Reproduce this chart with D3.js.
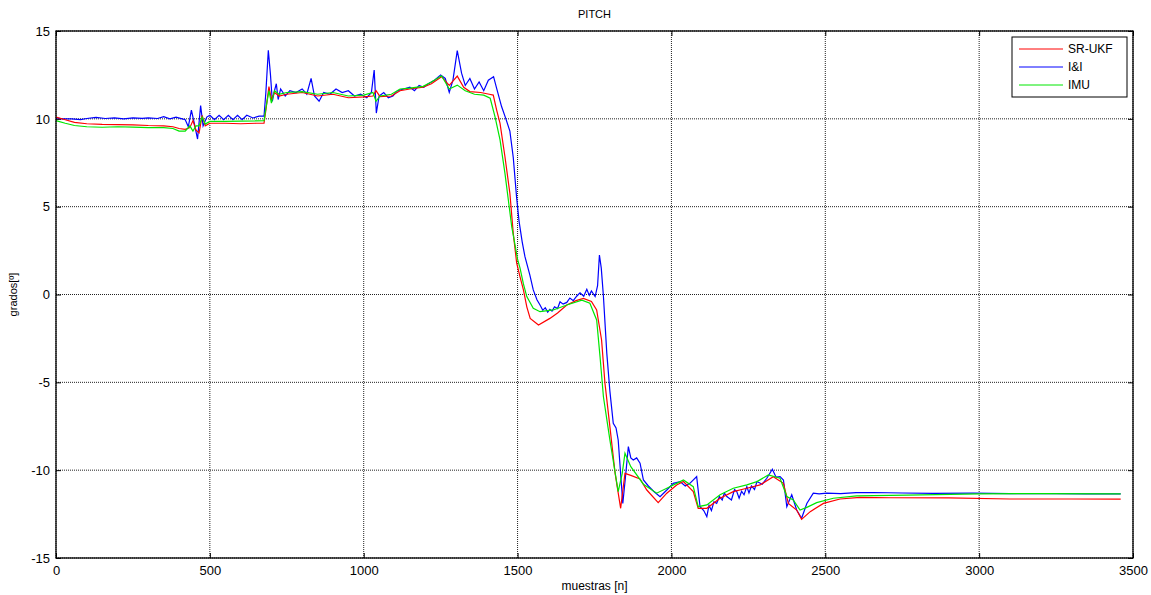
<!DOCTYPE html>
<html>
<head>
<meta charset="utf-8">
<script src="https://cdn.jsdelivr.net/npm/d3@7"></script>
<style>
body { margin: 0; background: #fff; }
text { font-family: "Liberation Sans", Arial, sans-serif; }
</style>
</head>
<body>
<div id="graph"></div>
<script>
var graph_width = 1151;
var graph_height = 595;

// sample index / value pairs
var ukfX = [0,30,60,100,150,200,250,300,350,380,400,420,435,445,455,465,475,485,500,550,600,650,676,682,692,700,710,725,750,800,850,900,950,1000,1030,1040,1053,1090,1118,1150,1193,1220,1253,1278,1304,1325,1345,1380,1408,1421,1432,1443,1459,1475,1486,1497,1508,1519,1530,1541,1568,1605,1630,1660,1690,1714,1740,1757,1773,1784,1800,1817,1835,1849,1868,1898,1920,1957,1985,2017,2039,2071,2087,2115,2158,2201,2245,2288,2331,2364,2380,2407,2423,2451,2494,2548,2613,2711,2900,3100,3300,3460];
var ukfY = [10.1,9.95,9.8,9.72,9.68,9.67,9.66,9.62,9.6,9.55,9.45,9.4,9.5,9.9,9.35,9.2,10.2,9.6,9.75,9.75,9.72,9.75,9.75,10.5,11.83,11.1,11.5,11.3,11.4,11.5,11.3,11.4,11.2,11.25,11.3,11.6,11.26,11.3,11.6,11.7,11.8,12.0,12.4,11.9,12.43,11.8,11.55,11.5,11.4,11.35,10.5,9.74,7.84,5.76,3.48,1.8,1.0,0.26,-0.7,-1.36,-1.74,-1.36,-1.05,-0.6,-0.35,-0.22,-0.4,-0.88,-2.59,-5.05,-7.52,-10.18,-12.17,-10.18,-10.3,-10.5,-11.13,-11.85,-11.31,-10.84,-10.65,-11.22,-12.17,-12.17,-11.6,-11.22,-11.03,-10.84,-10.37,-10.75,-11.89,-12.27,-12.8,-12.36,-11.89,-11.64,-11.55,-11.57,-11.58,-11.64,-11.64,-11.65];

var iiX = [0,20,50,80,100,130,160,190,220,250,280,300,330,350,370,390,410,420,430,440,450,460,470,478,490,500,515,530,545,560,575,590,605,620,640,660,676,682,690,697,703,710,716,722,730,745,760,780,800,815,829,840,855,870,890,910,930,950,970,990,1010,1025,1034,1041,1050,1065,1080,1095,1110,1130,1150,1165,1180,1195,1210,1230,1250,1265,1278,1290,1304,1318,1330,1345,1360,1375,1390,1405,1422,1432,1448,1462,1475,1486,1497,1505,1515,1524,1540,1551,1563,1573,1582,1590,1598,1605,1612,1620,1630,1638,1648,1660,1670,1681,1692,1703,1715,1725,1733,1740,1752,1760,1766,1772,1779,1790,1800,1811,1820,1827,1838,1842,1850,1860,1868,1876,1887,1898,1909,1925,1942,1963,1985,2006,2028,2045,2060,2082,2093,2105,2115,2122,2130,2138,2147,2156,2165,2172,2180,2195,2205,2212,2220,2228,2236,2245,2252,2260,2270,2278,2295,2310,2328,2340,2353,2364,2375,2391,2407,2423,2440,2461,2480,2505,2550,2600,2656,2750,2850,2981,3100,3250,3350,3460];
var iiY = [10.05,10.0,10.0,9.95,10.02,10.08,10.02,10.06,10.0,10.05,10.03,10.06,10.02,10.12,10.0,10.1,10.0,9.95,9.55,10.5,9.7,8.85,10.75,9.6,10.1,10.2,9.95,10.2,9.95,10.2,9.95,10.2,9.95,10.2,10.05,10.15,10.15,11.5,13.9,12.5,11.0,11.6,12.0,11.1,11.7,11.3,11.6,11.5,11.7,11.4,12.3,11.3,11.0,11.5,11.4,11.7,11.5,11.6,11.3,11.4,11.2,11.5,12.78,10.33,11.3,11.5,11.2,11.3,11.6,11.7,11.8,11.6,11.9,11.8,12.0,12.2,12.5,12.3,11.5,12.2,13.88,12.6,11.9,12.3,11.7,12.1,11.6,12.2,12.4,11.73,10.7,10.0,9.3,7.8,5.5,4.15,3.0,2.15,1.1,0.26,-0.3,-0.6,-0.9,-0.75,-1.0,-0.85,-0.95,-0.7,-0.8,-0.41,-0.55,-0.45,-0.2,-0.35,-0.1,0.1,-0.1,0.3,-0.05,0.2,-0.12,0.5,2.25,1.5,-0.1,-3.35,-5.5,-7.33,-7.6,-8.28,-10.94,-11.89,-10.5,-8.66,-9.3,-9.42,-9.3,-9.6,-10.56,-10.9,-11.2,-11.51,-11.13,-10.75,-10.65,-10.9,-10.75,-10.37,-12.08,-12.3,-12.65,-12.0,-12.3,-11.8,-11.89,-11.5,-11.7,-11.3,-11.5,-11.7,-11.1,-11.2,-11.6,-11.2,-11.4,-10.94,-11.3,-10.9,-11.1,-10.65,-10.8,-10.46,-9.95,-10.4,-10.37,-10.56,-12.08,-11.4,-12.27,-12.74,-11.9,-11.31,-11.35,-11.31,-11.33,-11.28,-11.27,-11.3,-11.32,-11.31,-11.33,-11.33,-11.35,-11.35];

var imuX = [0,30,60,100,150,200,250,300,350,380,400,420,435,445,455,465,475,485,500,550,600,650,676,682,692,700,710,725,750,800,850,900,950,1000,1030,1040,1053,1090,1118,1150,1193,1220,1253,1278,1304,1330,1360,1390,1411,1427,1443,1459,1470,1481,1492,1500,1508,1519,1530,1551,1573,1616,1660,1709,1735,1757,1768,1779,1800,1827,1840,1849,1868,1909,1952,1985,2017,2039,2071,2087,2115,2158,2201,2245,2278,2315,2353,2375,2396,2418,2440,2472,2526,2602,2765,3000,3200,3460];
var imuY = [9.9,9.75,9.62,9.55,9.52,9.55,9.53,9.5,9.5,9.45,9.3,9.3,9.6,9.3,9.6,9.6,10.1,9.7,9.85,9.85,9.87,9.88,9.9,10.6,11.6,10.9,11.6,11.4,11.5,11.55,11.4,11.5,11.3,11.35,11.5,11.0,11.3,11.4,11.7,11.75,11.85,12.1,12.45,11.7,11.92,11.6,11.4,11.35,11.17,10.1,8.8,6.9,5.38,3.86,2.8,2.0,1.5,0.6,-0.12,-0.78,-0.98,-0.88,-0.6,-0.32,-0.5,-1.45,-3.54,-5.82,-8.28,-11.22,-10.2,-9.04,-9.8,-10.8,-11.31,-11.03,-10.75,-10.56,-10.94,-12.08,-11.98,-11.4,-11.03,-10.84,-10.65,-10.27,-10.46,-11.5,-11.7,-12.27,-12.12,-11.85,-11.6,-11.46,-11.42,-11.35,-11.33,-11.35];

var series_names = ["SR-UKF", "I&I", "IMU"];
var series_colors = ["rgb(255,0,0)", "rgb(0,0,255)", "rgb(0,230,0)"];
var xTicks = [0,500,1000,1500,2000,2500,3000,3500];
var yTicks = [-15,-10,-5,0,5,10,15];

var m_left = 56, m_right = 1133, m_top = 31, m_bottom = 558;

var graph = d3.select('#graph')
		.append('svg')
		.attr('width', graph_width)
		.attr('height', graph_height);

var x = d3.scaleLinear().domain([0, 3500]).range([m_left, m_right]);
var y = d3.scaleLinear().domain([-15, 15]).range([m_bottom, m_top]);

// grid
for (var i = 0; i < xTicks.length; i++)
{
	graph.append('line')
		.attr('x1', x(xTicks[i])).attr('x2', x(xTicks[i]))
		.attr('y1', m_top).attr('y2', m_bottom)
		.attr('style', 'stroke:#222;stroke-width:1;stroke-dasharray:1,1');
}
for (var i = 0; i < yTicks.length; i++)
{
	graph.append('line')
		.attr('x1', m_left).attr('x2', m_right)
		.attr('y1', y(yTicks[i])).attr('y2', y(yTicks[i]))
		.attr('style', 'stroke:#222;stroke-width:1;stroke-dasharray:1,1');
}

// axes, ticks pointing inward like matlab
// plain hyphen for negatives, as matlab prints them
var fmt = function(d) { return String(d); };
graph.append('g')
	.attr('transform', 'translate(0,' + m_bottom + ')')
	.call(d3.axisBottom(x).tickValues(xTicks).tickSizeInner(-5).tickSizeOuter(0).tickPadding(8).tickFormat(fmt))
	.call(function(g) { g.select('.domain').remove(); });
graph.append('g')
	.attr('transform', 'translate(0,' + m_top + ')')
	.call(d3.axisTop(x).tickValues(xTicks).tickSizeInner(-5).tickSizeOuter(0).tickFormat(''))
	.call(function(g) { g.select('.domain').remove(); });
graph.append('g')
	.attr('transform', 'translate(' + m_left + ',0)')
	.call(d3.axisLeft(y).tickValues(yTicks).tickSizeInner(-5).tickSizeOuter(0).tickPadding(6).tickFormat(fmt))
	.call(function(g) { g.select('.domain').remove(); });
graph.append('g')
	.attr('transform', 'translate(' + m_right + ',0)')
	.call(d3.axisRight(y).tickValues(yTicks).tickSizeInner(-5).tickSizeOuter(0).tickFormat(''))
	.call(function(g) { g.select('.domain').remove(); });

graph.selectAll('.tick text')
	.attr('style', 'font-size:13px;fill:#000');
graph.selectAll('.tick line')
	.attr('style', 'stroke:#000');

// lines
var xs = [ukfX, iiX, imuX];
var ys = [ukfY, iiY, imuY];
var line = d3.line()
	.x(function(d) { return x(d[0]); })
	.y(function(d) { return y(d[1]); });

function drawSeries(k)
{
	var pts = xs[k].map(function(v, j) { return [v, ys[k][j]]; });
	graph.append('path')
		.datum(pts)
		.attr('d', line)
		.attr('style', 'fill:none;stroke:' + series_colors[k] + ';stroke-width:1.2');
}
drawSeries(1);
drawSeries(0);
drawSeries(2);

// box
graph.append('rect')
	.attr('x', m_left).attr('y', m_top)
	.attr('width', m_right - m_left).attr('height', m_bottom - m_top)
	.attr('style', 'fill:none;stroke:#000;stroke-width:1.3');

// titles
graph.append('text')
	.attr('x', (m_left + m_right) / 2).attr('y', 18)
	.attr('text-anchor', 'middle')
	.attr('style', 'font-size:11px')
	.text('PITCH');
graph.append('text')
	.attr('x', (m_left + m_right) / 2).attr('y', 590)
	.attr('text-anchor', 'middle')
	.attr('style', 'font-size:12px')
	.text('muestras [n]');
graph.append('text')
	.attr('transform', 'translate(17,' + ((m_top + m_bottom) / 2) + ') rotate(-90)')
	.attr('text-anchor', 'middle')
	.attr('style', 'font-size:11px')
	.text('grados[º]');

// legend
var lg = graph.append('g');
lg.append('rect')
	.attr('x', 1012).attr('y', 37)
	.attr('width', 115).attr('height', 60)
	.attr('style', 'fill:#fff;stroke:#000;stroke-width:1');
for (var k = 0; k < series_names.length; k++)
{
	var ly = 49 + k * 18;
	lg.append('line')
		.attr('x1', 1019).attr('x2', 1063)
		.attr('y1', ly).attr('y2', ly)
		.attr('style', 'stroke:' + series_colors[k] + ';stroke-width:1');
	lg.append('text')
		.attr('x', 1068).attr('y', ly + 4)
		.attr('style', 'font-size:12px')
		.text(series_names[k]);
}
</script>
</body>
</html>
